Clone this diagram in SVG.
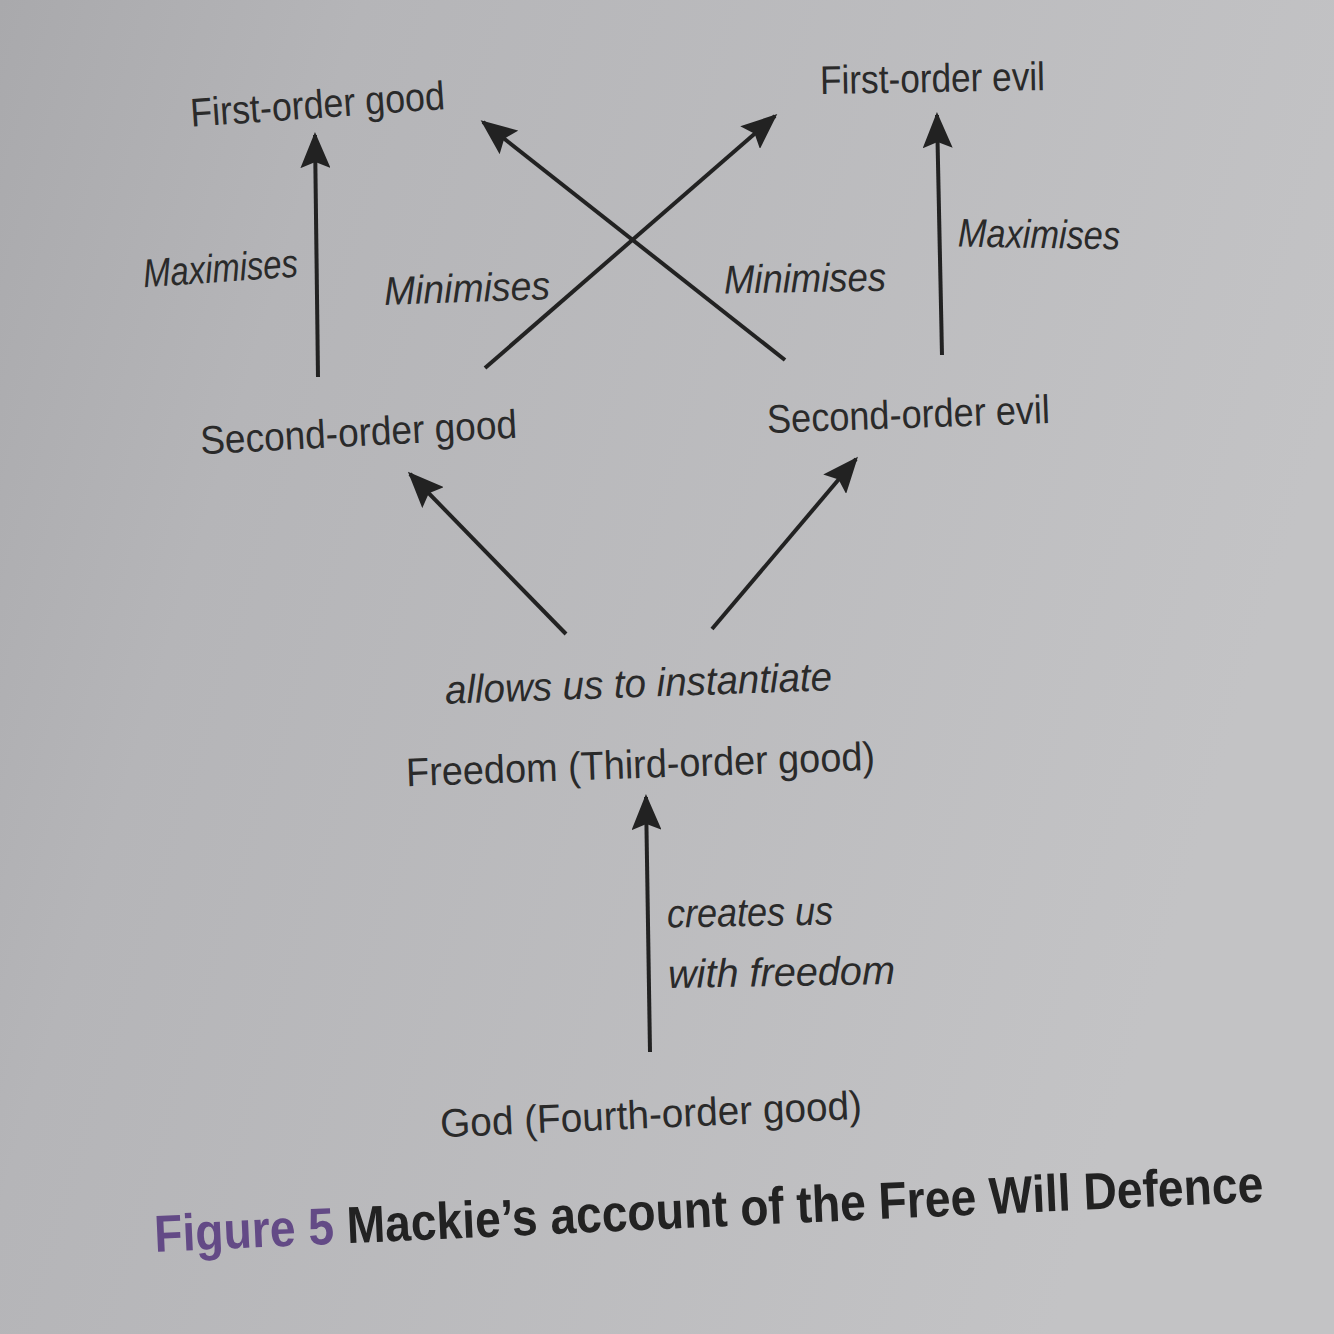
<svg xmlns="http://www.w3.org/2000/svg" width="1334" height="1334" viewBox="0 0 1334 1334">
<defs>
<linearGradient id="bg" x1="0" y1="0" x2="1" y2="0.3">
<stop offset="0" stop-color="#a9a9ac"/>
<stop offset="0.25" stop-color="#b5b5b8"/>
<stop offset="1" stop-color="#c3c3c5"/>
</linearGradient>
<marker id="ah" viewBox="0 0 12 10" refX="11" refY="5" markerWidth="36" markerHeight="30" markerUnits="userSpaceOnUse" orient="auto">
<path d="M0,0 L12,5 L0,10 L2,5 z" fill="#222"/>
</marker>
<style>
.n{font-family:"Liberation Sans","Open Sans",sans-serif;font-size:40px;fill:#2a2a2a}
.l{font-family:"Liberation Sans","Open Sans",sans-serif;font-size:40px;font-style:italic;fill:#2a2a2a}
.c{stroke:#222;stroke-width:4;fill:none;marker-end:url(#ah)}
.cap{font-family:"Liberation Sans","DejaVu Sans",sans-serif;font-size:52px;font-weight:bold}
</style>
</defs>
<rect width="1334" height="1334" fill="url(#bg)"/>
<g id="connectors">
<line class="c" x1="318" y1="377" x2="315" y2="135"/>
<line class="c" x1="942" y1="355" x2="937" y2="115"/>
<line class="c" x1="485" y1="368" x2="775" y2="116"/>
<line class="c" x1="785" y1="360" x2="483" y2="122"/>
<line class="c" x1="566" y1="634" x2="410" y2="474"/>
<line class="c" x1="712" y1="629" x2="856" y2="459"/>
<line class="c" x1="650" y1="1052" x2="646" y2="797"/>
</g>
<g id="first-order-good"><text class="n" x="190" y="118" textLength="255" lengthAdjust="spacingAndGlyphs" transform="rotate(-4 317 105)">First-order good</text></g>
<g id="first-order-evil"><text class="n" x="820" y="92" textLength="225" lengthAdjust="spacingAndGlyphs" transform="rotate(-1 932 80)">First-order evil</text></g>
<g id="label-maximises-left"><text class="l" x="143" y="282" textLength="155" lengthAdjust="spacingAndGlyphs" transform="rotate(-4 220 270)">Maximises</text></g>
<g id="label-minimises-left"><text class="l" x="384" y="302" textLength="166" lengthAdjust="spacingAndGlyphs" transform="rotate(-2 467 290)">Minimises</text></g>
<g id="label-minimises-right"><text class="l" x="724" y="292" textLength="162" lengthAdjust="spacingAndGlyphs" transform="rotate(-1 805 280)">Minimises</text></g>
<g id="label-maximises-right"><text class="l" x="958" y="248" textLength="162" lengthAdjust="spacingAndGlyphs" transform="rotate(1 1039 236)">Maximises</text></g>
<g id="second-order-good"><text class="n" x="200" y="446" textLength="317" lengthAdjust="spacingAndGlyphs" transform="rotate(-3 358 432)">Second-order good</text></g>
<g id="second-order-evil"><text class="n" x="767" y="428" textLength="283" lengthAdjust="spacingAndGlyphs" transform="rotate(-2 908 416)">Second-order evil</text></g>
<g id="label-allows"><text class="l" x="445" y="697" textLength="387" lengthAdjust="spacingAndGlyphs" transform="rotate(-2 638 684)">allows us to instantiate</text></g>
<g id="freedom"><text class="n" x="406" y="778" textLength="469" lengthAdjust="spacingAndGlyphs" transform="rotate(-2 640 765)">Freedom (Third-order good)</text></g>
<g id="label-creates"><text class="l" x="667" y="926" textLength="166" lengthAdjust="spacingAndGlyphs" transform="rotate(-1 750 915)">creates us</text>
<text class="l" x="668" y="986" textLength="227" lengthAdjust="spacingAndGlyphs" transform="rotate(-1 781 975)">with freedom</text></g>
<g id="god"><text class="n" x="440" y="1128" textLength="422" lengthAdjust="spacingAndGlyphs" transform="rotate(-2.5 651 1115)">God (Fourth-order good)</text></g>
<g id="caption"><text class="cap" x="155" y="1252" textLength="1110" lengthAdjust="spacingAndGlyphs" transform="rotate(-2.6 155 1252)"><tspan fill="#634a86">Figure 5</tspan><tspan fill="#222"> Mackie’s account of the Free Will Defence</tspan></text></g>
</svg>
